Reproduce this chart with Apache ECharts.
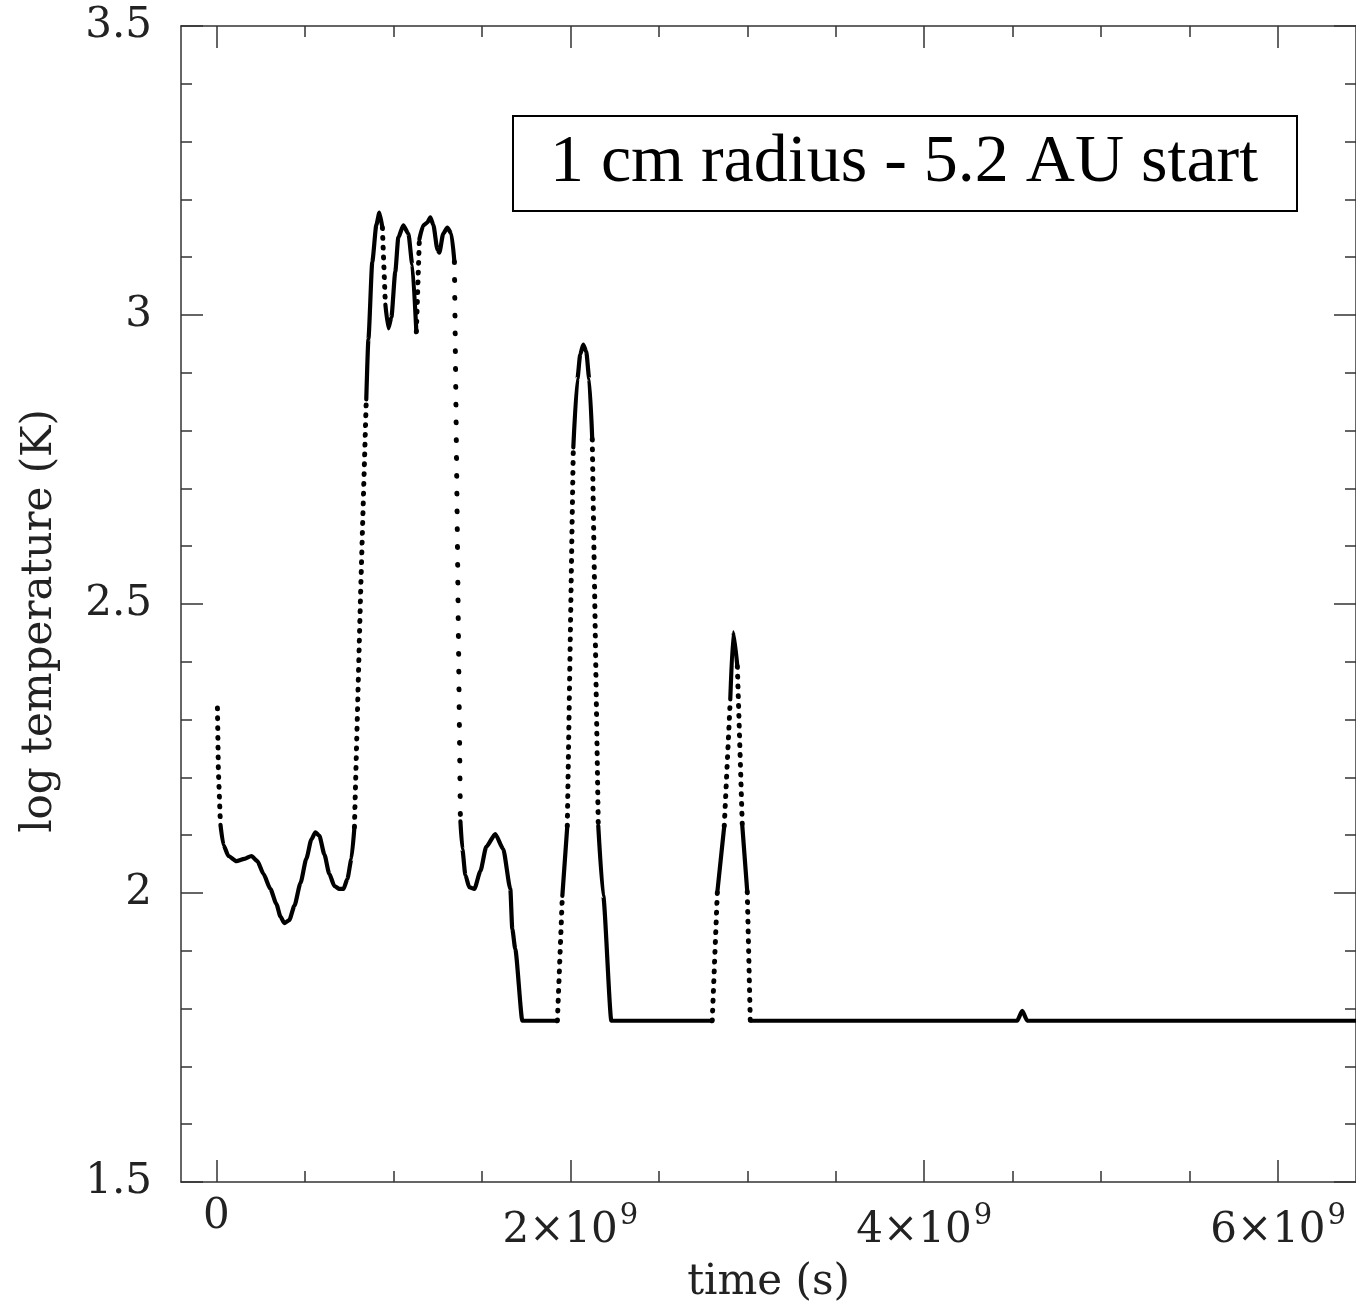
<!DOCTYPE html>
<html>
<head>
<meta charset="utf-8">
<script src="https://cdn.jsdelivr.net/npm/echarts@6/dist/echarts.min.js"></script>
<style>
html,body{margin:0;padding:0;background:#fff;}
#chart{width:1356px;height:1309px;}
</style>
</head>
<body>
<div id="chart"></div>
<script>
// time in units of 1e9 s
const timeE9 = [0.006,0.011,0.023,0.040,0.068,0.113,0.158,0.198,0.232,0.266,
  0.305,0.339,0.362,0.384,0.412,0.441,0.475,0.508,0.537,0.559,
  0.582,0.610,0.638,0.667,0.695,0.718,0.740,0.763,0.780,0.814,
  0.847,0.859,0.881,0.904,0.921,0.938,0.955,0.972,0.989,1.011,
  1.028,1.056,1.085,1.107,1.130,1.147,1.169,1.192,1.209,1.226,
  1.249,1.260,1.282,1.305,1.328,1.345,1.379,1.390,1.407,1.429,
  1.458,1.492,1.525,1.576,1.621,1.661,1.672,1.689,1.729,1.927,
  1.955,1.983,2.017,2.040,2.056,2.073,2.090,2.107,2.124,2.158,
  2.186,2.232,2.802,2.831,2.870,2.904,2.921,2.944,2.972,3.000,
  3.017,4.525,4.554,4.582,6.441];
// log temperature (K)
const logT = [2.320,2.214,2.118,2.083,2.064,2.055,2.059,2.064,2.055,2.033,
  2.007,1.981,1.959,1.948,1.953,1.978,2.017,2.059,2.093,2.105,
  2.099,2.067,2.033,2.012,2.007,2.007,2.024,2.059,2.114,2.508,
  2.854,2.958,3.092,3.156,3.177,3.151,3.018,2.977,2.996,3.075,
  3.134,3.155,3.141,3.087,2.971,3.131,3.155,3.160,3.169,3.156,
  3.113,3.108,3.141,3.151,3.141,3.092,2.124,2.076,2.031,2.010,
  2.007,2.038,2.080,2.102,2.076,2.007,1.938,1.903,1.779,1.779,
  1.995,2.116,2.771,2.889,2.932,2.949,2.937,2.889,2.785,2.116,
  1.995,1.779,1.779,2.002,2.116,2.335,2.451,2.392,2.116,2.002,
  1.779,1.779,1.796,1.779,1.779];
// sampling density of the segment starting at each point:
// s = dense (looks solid), d = sparse (dotted), D = very sparse
const segStyle = ['d','d','s','s','s','s','s','s','s','s',
  's','s','s','s','s','s','s','s','s','s',
  's','s','s','s','s','s','s','s','d','d',
  's','s','s','s','s','d','s','s','s','s',
  's','s','s','s','d','s','s','s','s','s',
  's','s','s','s','s','D','s','s','s','s',
  's','s','s','s','s','s','s','s','s','d',
  's','d','s','s','s','s','s','s','d','s',
  's','s','d','s','d','s','s','d','s','d',
  's','s','s','s'];

const xTickValues = [0, 2, 4, 6];
const xTickExponent = 9;
const yTickValues = [1.5, 2, 2.5, 3, 3.5];
const xName = 'time (s)';
const yName = 'log temperature (K)';
const boxLabel = '1 cm radius - 5.2 AU start';

const xMinor = [];
for (let i = 0; i <= 12; i++) xMinor.push(i * 0.5);
const yMinor = [];
for (let i = 15; i <= 35; i++) yMinor.push(i / 10);

const dashFor = {d: [0.8, 9], D: [0.8, 17]};

// build runs of same style
const series = [];
let start = 0;
for (let i = 1; i <= segStyle.length; i++) {
  if (i === segStyle.length || segStyle[i] !== segStyle[start]) {
    const pts = [];
    for (let k = start; k <= i; k++) pts.push([timeE9[k], logT[k]]);
    const st = segStyle[start];
    const dotted = st !== 's';
    series.push({
      type: 'line',
      xAxisIndex: 0, yAxisIndex: 0,
      data: pts,
      symbol: 'none',
      smooth: dotted ? false : 0.2,
      smoothMonotone: 'x',
      silent: true,
      lineStyle: dotted
        ? {color: '#000', width: 5, type: dashFor[st], cap: 'round'}
        : {color: '#000', width: 4.2, cap: 'round', join: 'round'}
    });
    start = i;
  }
}

const FONT = 'DejaVu Serif';
const TXT = '#222';
const LINE = '#333';
const X_MIN = -0.2, X_MAX = 6.44;

function xAx(pos, vals, len, withLine, withLabel) {
  return {
    type: 'value', position: pos, min: X_MIN, max: X_MAX,
    axisLine: {show: withLine, onZero: false, lineStyle: {color: LINE, width: 1.5}},
    axisTick: {show: true, inside: true, length: len, customValues: vals, lineStyle: {color: LINE, width: 1.5}},
    axisLabel: withLabel ? {
      show: true, customValues: xTickValues, margin: 20,
      formatter: v => v === 0 ? '{z|0}' : '{b|' + v + '×10}{s|' + xTickExponent + '}',
      rich: {
        z: {fontFamily: FONT, fontSize: 42, color: TXT, lineHeight: 30},
        b: {fontFamily: FONT, fontSize: 42, color: TXT, lineHeight: 50, verticalAlign: 'bottom'},
        s: {fontFamily: FONT, fontSize: 29, color: TXT, lineHeight: 26, verticalAlign: 'top', padding: [0, 0, 0, 2]}
      }
    } : {show: false},
    splitLine: {show: false},
    name: withLabel ? xName : '',
    nameLocation: 'middle', nameGap: 80,
    nameTextStyle: {fontFamily: FONT, fontSize: 42, color: TXT}
  };
}
function yAx(pos, vals, len, withLine, withLabel) {
  return {
    type: 'value', position: pos, min: 1.5, max: 3.5,
    axisLine: {show: withLine, onZero: false, lineStyle: {color: LINE, width: 1.5}},
    axisTick: {show: true, inside: true, length: len, customValues: vals, lineStyle: {color: LINE, width: 1.5}},
    axisLabel: withLabel ? {
      show: true, customValues: yTickValues, margin: 29,
      fontFamily: FONT, fontSize: 42, color: TXT,
      formatter: v => String(v)
    } : {show: false},
    splitLine: {show: false},
    name: withLabel ? yName : '',
    nameLocation: 'middle', nameGap: 120,
    nameTextStyle: {fontFamily: FONT, fontSize: 42, color: TXT, padding: [0, 34, 0, 0]}
  };
}

const chart = echarts.init(document.getElementById('chart'), null, {renderer: 'canvas'});
chart.setOption({
  animation: false,
  backgroundColor: '#fff',
  grid: {left: 181, top: 26, right: 0, bottom: 126, containLabel: false},
  xAxis: [
    xAx('bottom', xTickValues, 22, true, true),
    xAx('bottom', xMinor, 11, false, false),
    xAx('top', xTickValues, 22, true, false),
    xAx('top', xMinor, 11, false, false)
  ],
  yAxis: [
    yAx('left', yTickValues, 22, true, true),
    yAx('left', yMinor, 11, false, false),
    yAx('right', yTickValues, 22, true, false),
    yAx('right', yMinor, 11, false, false)
  ],
  series: series,
  graphic: [
    {
      type: 'rect', left: 512, top: 115, z: 100,
      shape: {width: 784, height: 95},
      style: {fill: '#fff', stroke: '#000', lineWidth: 2}
    },
    {
      type: 'text', x: 904, y: 163, z: 101,
      style: {text: boxLabel, fontFamily: 'Liberation Serif', fontSize: 68, fill: '#000',
        textAlign: 'center', textVerticalAlign: 'middle'}
    }
  ]
});
</script>
</body>
</html>
